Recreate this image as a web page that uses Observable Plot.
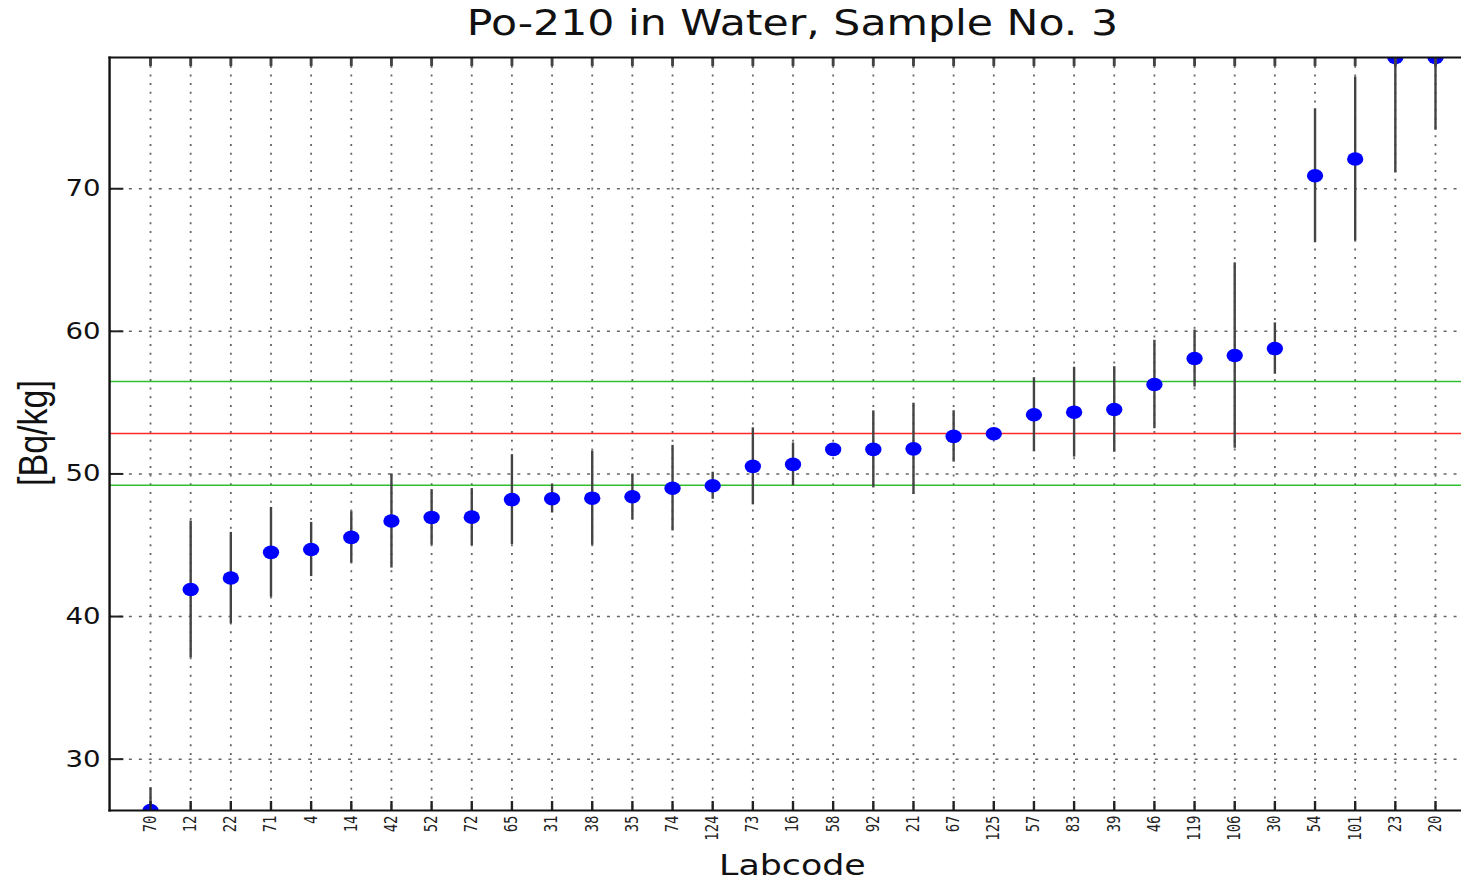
<!DOCTYPE html>
<html>
<head>
<meta charset="utf-8">
<script src="https://cdn.jsdelivr.net/npm/d3@7"></script>
<script src="https://cdn.jsdelivr.net/npm/@observablehq/plot@0.6"></script>
<style>
html, body { margin: 0; padding: 0; background: #fff; overflow: hidden; }
#wrap { position: relative; width: 1217.5px; height: 880px; transform: scaleX(1.2); transform-origin: 0 0; }
#title { height: 46px; line-height: 46px; margin-left: 90.8px; width: 1139px; text-align: center;
  font-family: "DejaVu Sans"; font-size: 35.5px; color: #111; white-space: nowrap; }
#chart svg { display: block; }
#xlabel { height: 30px; line-height: 30px; margin-top: 2px; margin-left: 90.8px; width: 1139px; text-align: center;
  font-family: "DejaVu Sans"; font-size: 29px; color: #111; white-space: nowrap; }
#ylabel { position: absolute; left: 27.5px; top: 433px; transform: translate(-50%, -50%) rotate(-90deg);
  font-family: "Liberation Sans"; font-size: 34px; color: #111; white-space: nowrap; }
</style>
</head>
<body>
<div id="wrap">
  <div id="title">Po-210 in Water, Sample No. 3</div>
  <div id="chart"></div>
  <div id="xlabel">Labcode</div>
  <div id="ylabel">[Bq/kg]</div>
</div>
<script>
const labcodes = ["70","12","22","71","4","14","42","52","72","65","31","38","35","74","124","73","16","58","92","21","67","125","57","83","39","46","119","106","30","54","101","23","20"];
const values = [26.4, 41.9, 42.7, 44.5, 44.7, 45.55, 46.7, 46.95, 46.97, 48.2, 48.26, 48.3, 48.4, 49.0, 49.17, 50.53, 50.67, 51.72, 51.72, 51.76, 52.63, 52.82, 54.15, 54.33, 54.52, 56.27, 58.09, 58.3, 58.79, 70.91, 72.08, 79.2, 79.2];
const uncertainties = [1.6, 4.8, 3.2, 3.15, 1.9, 1.8, 3.3, 1.95, 2.0, 3.15, 1.0, 3.3, 1.6, 3.0, 0.95, 2.7, 1.5, 0.35, 2.7, 3.2, 1.8, 0.35, 2.6, 3.15, 3.0, 3.1, 2.0, 6.5, 1.8, 4.7, 5.75, 8.1, 5.1];
const yTicks = [30, 40, 50, 60, 70];
const assignedValue = 52.84;
const lowerLimit = 49.2;
const upperLimit = 56.48;

const data = labcodes.map((code, i) => ({i, code, value: values[i], unc: uncertainties[i]}));
const idx = data.map(d => d.i);

const W = 1217.5, H = 802, mL = 90.8, mR = 0, mT = 11, mB = 38;
const pw = W - mL - mR, ph = H - mT - mB;

const chart = Plot.plot({
  width: W, height: H,
  marginLeft: mL, marginRight: mR, marginTop: mT, marginBottom: mB,
  x: {type: "linear", domain: [-1.02, labcodes.length - 1 + 0.65], axis: null},
  y: {domain: [26.4, 79.2], axis: null},
  style: {background: "white", color: "#111"},
  marks: [
    Plot.ruleX(idx, {x: d => d, stroke: "#666", strokeWidth: 1.5, strokeDasharray: "2,6.7"}),
    Plot.ruleY(yTicks, {y: d => d, stroke: "#666", strokeWidth: 1.5, strokeDasharray: "2.5,5.8"}),
    Plot.ruleY([lowerLimit, upperLimit], {y: d => d, stroke: "#2fbf2f", strokeWidth: 1.5}),
    Plot.ruleY([assignedValue], {y: d => d, stroke: "#ff2a2a", strokeWidth: 1.5}),
    Plot.ruleX(data, {x: "i", y1: d => d.value - d.unc, y2: d => d.value + d.unc, stroke: "#444", strokeWidth: 2, clip: true}),
    Plot.dot(data, {x: "i", y: "value", r: 6.8, fill: "#0000ff", stroke: "none", clip: true}),
    Plot.ruleX(idx, {x: d => d, insetTop: ph - 9, stroke: "#222", strokeWidth: 2}),
    Plot.ruleX(idx, {x: d => d, insetBottom: ph - 9, stroke: "#444", strokeWidth: 2.4}),
    Plot.ruleY(yTicks, {y: d => d, insetRight: pw - 12, stroke: "#222", strokeWidth: 2}),
    Plot.frame({anchor: "left", stroke: "#111", strokeWidth: 2}),
    Plot.frame({anchor: "top", stroke: "#111", strokeWidth: 2}),
    Plot.frame({anchor: "bottom", stroke: "#111", strokeWidth: 2}),
    Plot.axisY(yTicks, {tickSize: 0, tickPadding: 7.5, fontSize: 23, fontFamily: "DejaVu Sans", fill: "#111", label: null}),
    Plot.axisX(idx, {tickSize: 0, tickRotate: -90, tickPadding: 5, tickFormat: i => labcodes[i], fontSize: 14, fontFamily: "DejaVu Sans Mono", fill: "#222", label: null})
  ]
});
document.getElementById("chart").appendChild(chart);
</script>
</body>
</html>
